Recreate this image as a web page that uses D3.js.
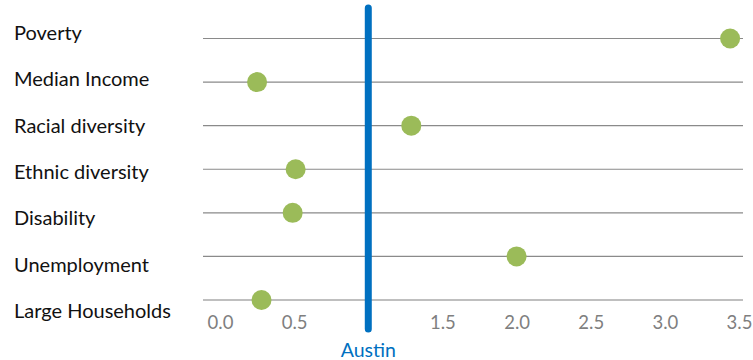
<!DOCTYPE html>
<html>
<head>
<meta charset="utf-8">
<script src="https://cdn.jsdelivr.net/npm/d3@7"></script>
<style>
  html, body { margin: 0; padding: 0; background: #fff; }
  svg { display: block; font-family: Lato, "Open Sans", sans-serif; }
</style>
</head>
<body>
<svg id="chart" width="753" height="360"></svg>
<script>
// Index values relative to Austin (Austin = 1.0)
const categories = ["Poverty", "Median Income", "Racial diversity", "Ethnic diversity", "Disability", "Unemployment", "Large Households"];
const values = [3.44, 0.25, 1.29, 0.51, 0.49, 2.00, 0.28];
const austinValue = 1.0;
const austinLabel = "Austin";
const tickValues = [0, 0.5, 1.5, 2.0, 2.5, 3.0, 3.5];

const svg = d3.select("#chart");

const x = d3.scaleLinear().domain([0, 3.5]).range([220, 739]);
const rowY = d3.scalePoint().domain(categories).range([38.5, 300]);
const labelY = d3.scalePoint().domain(categories).range([33, 311]);

const lineLeft = 203, lineRight = 743;

// horizontal guide per category (last row doubles as the axis line)
svg.append("g").selectAll("line")
  .data(categories)
  .join("line")
  .attr("x1", lineLeft)
  .attr("x2", lineRight)
  .attr("y1", d => rowY(d))
  .attr("y2", d => rowY(d))
  .attr("stroke", (d, i) => i === categories.length - 1 ? "#bfbfbf" : "#8a8a8a")
  .attr("stroke-width", (d, i) => i === categories.length - 1 ? 2 : 1.2);

// category labels
svg.append("g").selectAll("text")
  .data(categories)
  .join("text")
  .attr("x", 14)
  .attr("y", d => labelY(d))
  .attr("dy", "0.35em")
  .attr("font-size", 20)
  .attr("fill", "#111")
  .text(d => d);

// x axis tick labels
const xAxis = d3.axisBottom(x)
  .tickValues(tickValues)
  .tickFormat(d3.format(".1f"))
  .tickSize(0)
  .tickPadding(0);
const axisG = svg.append("g")
  .attr("transform", "translate(0,316)")
  .call(xAxis);
axisG.select(".domain").remove();
axisG.selectAll("text")
  .attr("font-size", 18.5)
  .attr("font-family", "Lato, 'Open Sans', sans-serif")
  .attr("fill", "#7f7f7f");

// Austin reference line
svg.append("line")
  .attr("x1", x(austinValue))
  .attr("x2", x(austinValue))
  .attr("y1", 8)
  .attr("y2", 329)
  .attr("stroke", "#0070c0")
  .attr("stroke-width", 7)
  .attr("stroke-linecap", "round");

svg.append("text")
  .attr("x", x(austinValue))
  .attr("y", 350)
  .attr("dy", "0.35em")
  .attr("text-anchor", "middle")
  .attr("font-size", 19.5)
  .attr("fill", "#0070c0")
  .text(austinLabel);

// dots
svg.append("g").selectAll("circle")
  .data(categories)
  .join("circle")
  .attr("cx", (d, i) => x(values[i]))
  .attr("cy", d => rowY(d))
  .attr("r", 10)
  .attr("fill", "#9bbb59");
</script>
</body>
</html>
